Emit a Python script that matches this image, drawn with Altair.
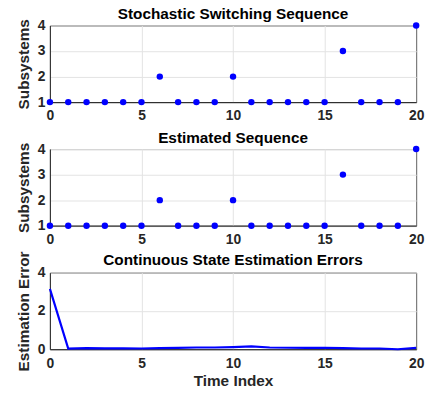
import altair as alt
import pandas as pd

time_index = list(range(21))
true_modes = [1, 1, 1, 1, 1, 1, 2, 1, 1, 1, 2, 1, 1, 1, 1, 1, 3, 1, 1, 1, 4]
est_modes = [1, 1, 1, 1, 1, 1, 2, 1, 1, 1, 2, 1, 1, 1, 1, 1, 3, 1, 1, 1, 4]
est_error = [3.15, 0.03, 0.06, 0.05, 0.05, 0.04, 0.06, 0.07, 0.09, 0.09, 0.11,
             0.15, 0.09, 0.08, 0.07, 0.08, 0.06, 0.04, 0.04, 0.0, 0.07]

df1 = pd.DataFrame({"t": time_index, "m": true_modes})
df2 = pd.DataFrame({"t": time_index, "m": est_modes})
df3 = pd.DataFrame({"t": time_index, "e": est_error})

W, H = 370.5, 77.5
BLUE = "#0000ff"


def xaxis(title=None):
    kw = dict(values=[0, 5, 10, 15, 20], labelPadding=7, ticks=False,
              labelFlush=False)
    if title:
        return alt.X("t:Q", scale=alt.Scale(domain=[0, 20], nice=False),
                     axis=alt.Axis(title=title, titlePadding=4, **kw))
    return alt.X("t:Q", scale=alt.Scale(domain=[0, 20], nice=False),
                 axis=alt.Axis(title=None, **kw))


def ttl(text, dy):
    return alt.Title(text, offset=4, dy=dy)


def mode_panel(df, title, dy):
    return alt.Chart(df, title=ttl(title, dy)).mark_point(
        filled=True, size=42, color=BLUE, opacity=1
    ).encode(
        x=xaxis(),
        y=alt.Y("m:Q", scale=alt.Scale(domain=[1, 4], nice=False),
                axis=alt.Axis(title="Subsystems", values=[1, 2, 3, 4],
                              ticks=False, labelPadding=5, titlePadding=6)),
    ).properties(width=W, height=H)


p1 = mode_panel(df1, "Stochastic Switching Sequence", 7.5)
p2 = mode_panel(df2, "Estimated Sequence", 8.5)
p3 = alt.Chart(df3, title=ttl("Continuous State Estimation Errors", 21.5)).mark_line(
    color=BLUE, strokeWidth=2.2
).encode(
    x=xaxis("Time Index"),
    y=alt.Y("e:Q", scale=alt.Scale(domain=[0, 4], nice=False),
            axis=alt.Axis(title="Estimation Error", values=[0, 2, 4],
                          ticks=False, labelPadding=5, titlePadding=6)),
).properties(width=W, height=H)

chart = alt.vconcat(p1, p2, p3, spacing=47, bounds="flush").properties(
    padding={"left": 15.5, "top": 3.5, "right": 5, "bottom": 5},
).configure(
    font="Liberation Sans",
).configure_view(
    stroke="#262626", strokeWidth=1
).configure_axis(
    labelFont="Liberation Sans", titleFont="Liberation Sans",
    labelFontSize=14, titleFontSize=15.5, labelFontWeight="bold",
    titleFontWeight="bold", labelColor="#262626", titleColor="#262626",
    gridColor="#e3e3e3", gridWidth=1, domainColor="#262626",
).configure_title(
    font="Liberation Sans", fontSize=15.5, fontWeight="bold", color="#000000",
    anchor="middle",
)

chart.save("out.html", embed_options={"renderer": "svg", "actions": False})
